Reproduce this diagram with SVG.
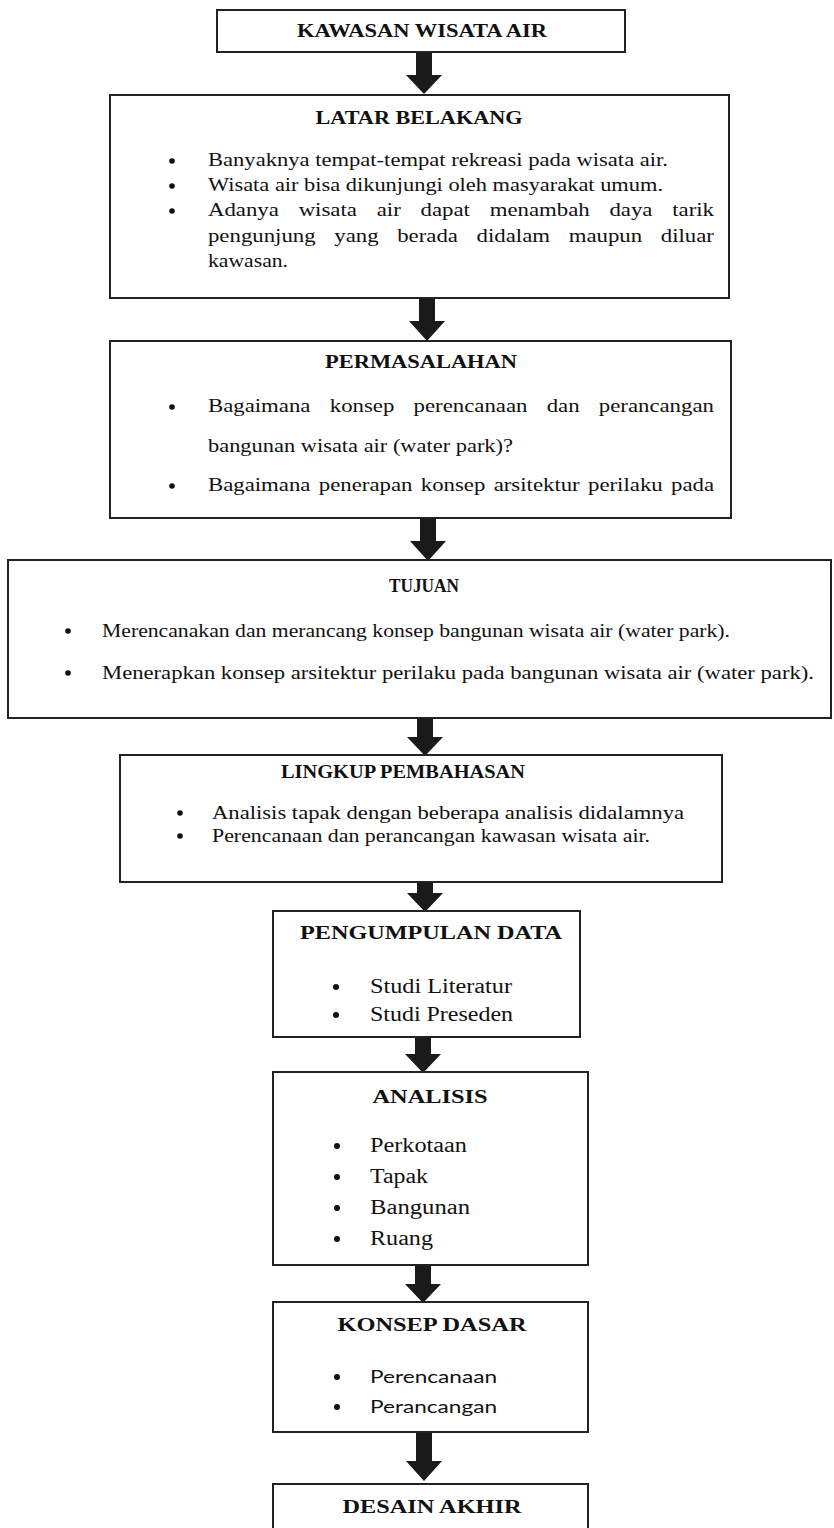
<svg xmlns="http://www.w3.org/2000/svg" width="834" height="1528" viewBox="0 0 834 1528">
<style>
.box{fill:#fff;stroke:#222;stroke-width:2}
.t{font-family:"Liberation Serif","Times New Roman",serif;font-weight:bold;font-size:18px;fill:#111;text-anchor:middle}
.b{font-family:"Liberation Serif","Times New Roman",serif;font-size:19px;fill:#111}
.l{font-family:"Liberation Serif","Times New Roman",serif;font-size:20px;fill:#111}
.s{font-family:"Lato","Open Sans","Liberation Sans",sans-serif;font-size:18px;fill:#111}
.dot{fill:#111}
.arr{fill:#1a1a1a}
</style>
<rect width="834" height="1528" fill="#fff"/>
<g id="connectors">
<polygon class="arr" points="416,52 432,52 432,75 442,75 424,94 406,75 416,75"/>
<polygon class="arr" points="419,298 435,298 435,321 445,321 427,341 409,321 419,321"/>
<polygon class="arr" points="420,518 436,518 436,541 446,541 428,561 410,541 420,541"/>
<polygon class="arr" points="417,718 433,718 433,737 443,737 425,756 407,737 417,737"/>
<polygon class="arr" points="417,882 433,882 433,893 443,893 425,912 407,893 417,893"/>
<polygon class="arr" points="415,1037 431,1037 431,1054 441,1054 423,1073 405,1054 415,1054"/>
<polygon class="arr" points="415,1265 431,1265 431,1284 441,1284 423,1303 405,1284 415,1284"/>
<polygon class="arr" points="416,1432 432,1432 432,1461 442,1461 424,1481 406,1461 416,1461"/>
</g>
<g id="kawasan">
<rect class="box" x="217" y="10" width="408" height="42"/>
<text class="t" x="422" y="37" textLength="250" lengthAdjust="spacingAndGlyphs">KAWASAN WISATA AIR</text>
</g>
<g id="latar-belakang">
<rect class="box" x="110" y="95" width="619" height="203"/>
<text class="t" x="419" y="124" textLength="207" lengthAdjust="spacingAndGlyphs">LATAR BELAKANG</text>
<circle class="dot" cx="172" cy="161" r="2.8"/>
<circle class="dot" cx="172" cy="186" r="2.8"/>
<circle class="dot" cx="172" cy="211" r="2.8"/>
<text class="b" x="208" y="166" textLength="460" lengthAdjust="spacingAndGlyphs">Banyaknya tempat-tempat rekreasi pada wisata air.</text>
<text class="b" x="208" y="191" textLength="455" lengthAdjust="spacingAndGlyphs">Wisata air bisa dikunjungi oleh masyarakat umum.</text>
<text class="b" transform="translate(0,216) scale(1.2,1)"><tspan x="173.33" y="0">Adanya</tspan><tspan x="248.88" y="0">wisata</tspan><tspan x="313.92" y="0">air</tspan><tspan x="350.46" y="0">dapat</tspan><tspan x="408.08" y="0">menambah</tspan><tspan x="507.88" y="0">daya</tspan><tspan x="560.17" y="0">tarik</tspan></text>
<text class="b" transform="translate(0,242) scale(1.2,1)"><tspan x="173.33" y="0">pengunjung</tspan><tspan x="278.58" y="0">yang</tspan><tspan x="331" y="0">berada</tspan><tspan x="397.17" y="0">didalam</tspan><tspan x="473.92" y="0">maupun</tspan><tspan x="550.67" y="0">diluar</tspan></text>
<text class="b" x="208" y="267" textLength="80" lengthAdjust="spacingAndGlyphs">kawasan.</text>
</g>
<g id="permasalahan">
<rect class="box" x="110" y="341" width="621" height="177"/>
<text class="t" x="421" y="368" textLength="192" lengthAdjust="spacingAndGlyphs">PERMASALAHAN</text>
<circle class="dot" cx="172" cy="407" r="2.8"/>
<circle class="dot" cx="172" cy="486" r="2.8"/>
<text class="b" transform="translate(0,412) scale(1.2,1)"><tspan x="173.33" y="0">Bagaimana</tspan><tspan x="274.83" y="0">konsep</tspan><tspan x="344.67" y="0">perencanaan</tspan><tspan x="455.58" y="0">dan</tspan><tspan x="499" y="0">perancangan</tspan></text>
<text class="b" x="208" y="452" textLength="305" lengthAdjust="spacingAndGlyphs">bangunan wisata air (water park)?</text>
<text class="b" transform="translate(0,491) scale(1.2,1)"><tspan x="173.33" y="0">Bagaimana</tspan><tspan x="265.72" y="0">penerapan</tspan><tspan x="350.68" y="0">konsep</tspan><tspan x="411.4" y="0">arsitektur</tspan><tspan x="490.03" y="0">perilaku</tspan><tspan x="559.17" y="0">pada</tspan></text>
</g>
<g id="tujuan">
<rect class="box" x="8" y="560" width="823" height="158"/>
<text class="t" x="424" y="592" textLength="70" lengthAdjust="spacingAndGlyphs">TUJUAN</text>
<circle class="dot" cx="68" cy="631" r="2.8"/>
<circle class="dot" cx="68" cy="673" r="2.8"/>
<text class="b" x="102" y="637" textLength="628" lengthAdjust="spacingAndGlyphs">Merencanakan dan merancang konsep bangunan wisata air (water park).</text>
<text class="b" x="102" y="679" textLength="712" lengthAdjust="spacingAndGlyphs">Menerapkan konsep arsitektur perilaku pada bangunan wisata air (water park).</text>
</g>
<g id="lingkup-pembahasan">
<rect class="box" x="120" y="755" width="602" height="127"/>
<text class="t" x="403" y="778" textLength="244" lengthAdjust="spacingAndGlyphs">LINGKUP PEMBAHASAN</text>
<circle class="dot" cx="180" cy="813" r="2.8"/>
<circle class="dot" cx="180" cy="836" r="2.8"/>
<text class="b" x="212" y="819" textLength="472" lengthAdjust="spacingAndGlyphs">Analisis tapak dengan beberapa analisis didalamnya</text>
<text class="b" x="212" y="842" textLength="438" lengthAdjust="spacingAndGlyphs">Perencanaan dan perancangan kawasan wisata air.</text>
</g>
<g id="pengumpulan-data">
<rect class="box" x="273" y="911" width="307" height="126"/>
<text class="t" x="431" y="939" textLength="262" lengthAdjust="spacingAndGlyphs">PENGUMPULAN DATA</text>
<circle class="dot" cx="336" cy="987" r="3"/>
<circle class="dot" cx="336" cy="1015" r="3"/>
<text class="l" x="370" y="993" textLength="142" lengthAdjust="spacingAndGlyphs">Studi Literatur</text>
<text class="l" x="370" y="1021" textLength="143" lengthAdjust="spacingAndGlyphs">Studi Preseden</text>
</g>
<g id="analisis">
<rect class="box" x="273" y="1072" width="315" height="193"/>
<text class="t" x="430" y="1103" textLength="115" lengthAdjust="spacingAndGlyphs">ANALISIS</text>
<circle class="dot" cx="337" cy="1146" r="3"/>
<circle class="dot" cx="337" cy="1177" r="3"/>
<circle class="dot" cx="337" cy="1208" r="3"/>
<circle class="dot" cx="337" cy="1239" r="3"/>
<text class="l" x="370" y="1152" textLength="97" lengthAdjust="spacingAndGlyphs">Perkotaan</text>
<text class="l" x="370" y="1183" textLength="58" lengthAdjust="spacingAndGlyphs">Tapak</text>
<text class="l" x="370" y="1214" textLength="100" lengthAdjust="spacingAndGlyphs">Bangunan</text>
<text class="l" x="370" y="1245" textLength="63" lengthAdjust="spacingAndGlyphs">Ruang</text>
</g>
<g id="konsep-dasar">
<rect class="box" x="273" y="1302" width="315" height="130"/>
<text class="t" x="432" y="1331" textLength="189" lengthAdjust="spacingAndGlyphs">KONSEP DASAR</text>
<circle class="dot" cx="337" cy="1377" r="3"/>
<circle class="dot" cx="337" cy="1407" r="3"/>
<text class="s" x="370" y="1383" textLength="127" lengthAdjust="spacingAndGlyphs">Perencanaan</text>
<text class="s" x="370" y="1413" textLength="127" lengthAdjust="spacingAndGlyphs">Perancangan</text>
</g>
<g id="desain-akhir">
<rect class="box" x="273" y="1484" width="315" height="60"/>
<text class="t" x="432" y="1513" textLength="179" lengthAdjust="spacingAndGlyphs">DESAIN AKHIR</text>
</g>
</svg>
